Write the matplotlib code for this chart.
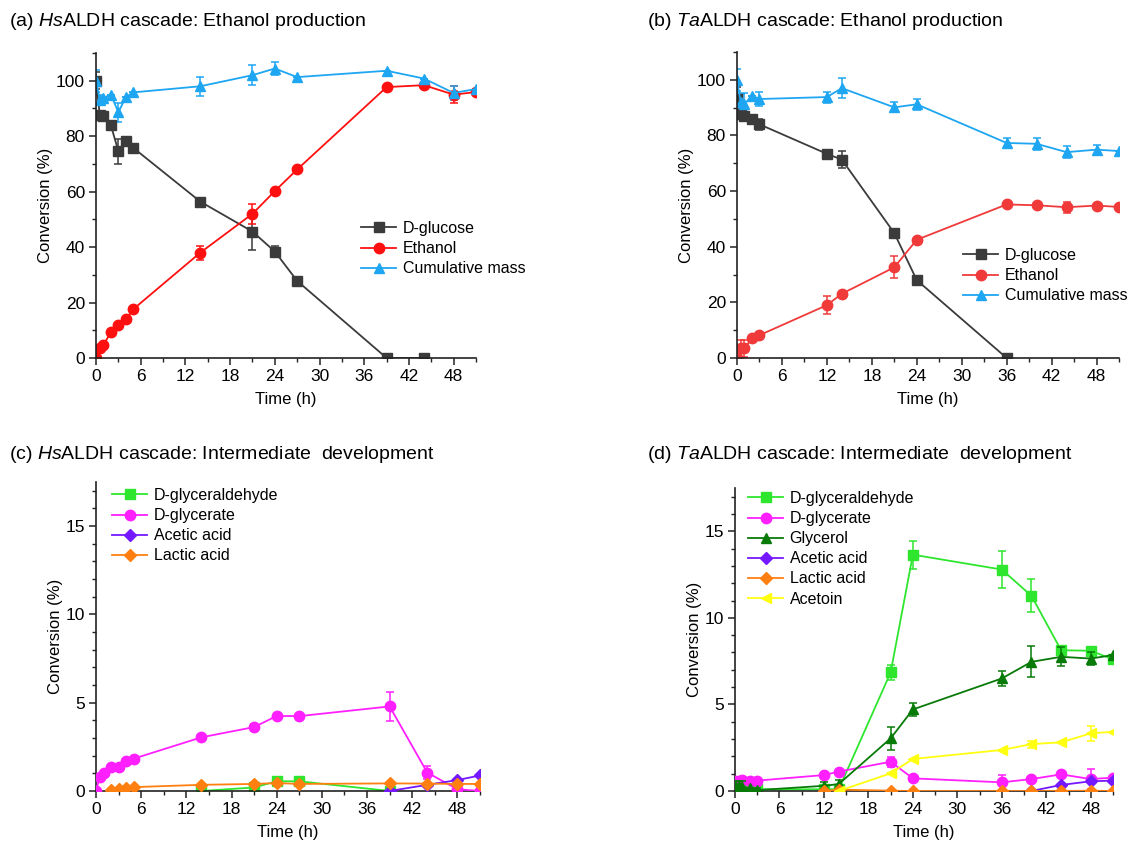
import matplotlib
matplotlib.use('Agg')
from matplotlib import pyplot as plt
from matplotlib.ticker import MultipleLocator

plt.rcParams['font.family'] = ['Liberation Sans', 'DejaVu Sans']
plt.rcParams['mathtext.fontset'] = 'custom'
plt.rcParams['mathtext.rm'] = 'Liberation Sans'
plt.rcParams['mathtext.it'] = 'Liberation Sans:italic'
plt.rcParams['font.size'] = 11.5

W, H = 1129, 841

# ---- (a) HsALDH, ethanol production
t_a = [0, 0.5, 1, 2, 3, 4, 5, 14, 21, 24, 27, 39, 44, 48, 51]
t_glc_a = [0, 0.5, 1, 2, 3, 4, 5, 14, 21, 24, 27, 39, 44]
glucose_a = [100, 87.8, 87.4, 83.9, 74.6, 78.2, 75.8, 56.4, 45.6, 38.4, 27.8, 0, 0]
glucose_a_err = [3, 1, 1, 1, 4.5, 1, 1, 1, 6.5, 2, 1, 0, 0]
ethanol_a = [0, 3.5, 4.8, 9.2, 12, 14, 17.6, 38, 52, 60.2, 68, 97.7, 98.4, 95, 95.9]
ethanol_a_err = [0, 0, 0, 0, 0, 0, 0, 2.5, 3.5, 0, 0, 0, 0, 3, 0]
mass_a = [100, 93.2, 93.8, 95, 88.6, 94.1, 95.8, 98, 102, 104.4, 101.3, 103.6, 100.8, 95.6, 97]
mass_a_err = [4, 1.5, 0, 0, 3.5, 0, 0, 3.5, 3.5, 2.5, 0, 0, 0, 2.5, 0]

# ---- (b) TaALDH, ethanol production
t_b = [0, 0.5, 1, 2, 3, 12, 14, 21, 24, 36, 40, 44, 48, 51]
t_glc_b = [0, 0.5, 1, 2, 3, 12, 14, 21, 24, 36]
glucose_b = [93, 87.6, 87, 85.8, 84, 73.4, 71.3, 44.9, 28, 0]
glucose_b_err = [4.5, 1.5, 1.5, 0, 2, 0, 3, 0, 0, 0]
ethanol_b = [0, 3.45, 3.5, 7.1, 8.2, 19, 23.1, 32.6, 42.5, 55.2, 54.9, 54.2, 54.8, 54.3]
ethanol_b_err = [0, 3, 3, 0, 0, 3.3, 0, 4, 0, 0, 0, 2, 0, 0]
mass_b = [100, 91.9, 91.3, 94.3, 93.1, 93.8, 97, 90.1, 91.2, 77.3, 77, 74, 74.9, 74.4]
mass_b_err = [4, 3, 4, 0, 2.5, 2, 3.5, 1.8, 2, 1.8, 2.2, 2.2, 1.8, 0]

# ---- (c) HsALDH, intermediates
t_c = [0, 0.5, 1, 2, 3, 4, 5, 14, 21, 24, 27, 39, 44, 48, 51]
glycerate_c = [0, 0.8, 1.0, 1.34, 1.36, 1.68, 1.83, 3.04, 3.62, 4.25, 4.24, 4.79, 1.04, 0.1, 0]
glycerate_c_err = [0, 0, 0, 0, 0, 0, 0, 0, 0.2, 0.1, 0, 0.8, 0.35, 0, 0]
t_gla_c = [14, 21, 24, 27, 39]
glyceraldehyde_c = [0, 0.2, 0.55, 0.55, 0]
t_ace_c = [39, 44, 48, 51]
acetic_c = [0, 0.35, 0.62, 0.88]
t_lac_c = [2, 3, 4, 5, 14, 21, 24, 27, 39, 44, 48, 51]
lactic_c = [0.08, 0.12, 0.18, 0.22, 0.35, 0.4, 0.45, 0.4, 0.43, 0.42, 0.4, 0.4]

# ---- (d) TaALDH, intermediates
t_d = [0, 0.5, 1, 2, 3, 12, 14, 21, 24, 36, 40, 44, 48, 51]
glyceraldehyde_d = [0.3, 0.35, 0.3, 0.2, 0.1, 0.1, 0.1, 6.85, 13.65, 12.79, 11.27, 8.13, 8.1, 7.6]
glyceraldehyde_d_err = [0, 0, 0, 0, 0, 0, 0, 0.45, 0.8, 1.05, 0.95, 0.25, 0.2, 0]
glycerate_d = [0.55, 0.6, 0.65, 0.6, 0.6, 0.92, 1.12, 1.69, 0.73, 0.5, 0.69, 0.96, 0.69, 0.77]
glycerate_d_err = [0.2, 0, 0, 0, 0, 0, 0, 0.3, 0, 0.45, 0, 0, 0.6, 0]
glycerol_d = [0.35, 0.3, 0.25, 0.15, 0.05, 0.3, 0.4, 3.04, 4.71, 6.5, 7.46, 7.75, 7.65, 7.85]
glycerol_d_err = [0.25, 0.25, 0.3, 0, 0.1, 0.2, 0.25, 0.65, 0.35, 0.45, 0.9, 0.55, 0.35, 0]
t_ace_d = [40, 44, 48, 51]
acetic_d = [0, 0.35, 0.56, 0.6]
t_lac_d = [12, 14, 21, 24, 36, 40, 44, 48, 51]
lactic_d = [0, 0.08, 0.02, 0, 0, 0, 0, 0.02, 0]
t_acn_d = [14, 21, 24, 36, 40, 44, 48, 51]
acetoin_d = [0, 1.02, 1.85, 2.37, 2.71, 2.81, 3.33, 3.42]
acetoin_d_err = [0, 0, 0, 0, 0.2, 0, 0.45, 0]

GRAY = '#3b3b3b'
RED = '#ff1010'
RED_B = '#f03a3a'
BLUE = '#1ea6f2'
LGREEN = '#2ee62e'
MAGENTA = '#ff1fff'
DGREEN = '#087a08'
PURPLE = '#7418ff'
ORANGE = '#ff8010'
YELLOW = '#ffff10'


def series(ax, t, v, err, color, marker, label, ms=7.5, z=2):
    ax.errorbar(t, v, yerr=err, color=color, marker=marker, ms=ms, lw=1.3,
                elinewidth=1.1, capsize=3, capthick=1.1, label=label,
                mec=color, mfc=color, zorder=z)


def style(ax, ymax, ymaj, ymin):
    ax.set_xlim(0, 51)
    ax.set_ylim(0, ymax)
    ax.xaxis.set_major_locator(MultipleLocator(6))
    ax.xaxis.set_minor_locator(MultipleLocator(3))
    ax.yaxis.set_major_locator(MultipleLocator(ymaj))
    ax.yaxis.set_minor_locator(MultipleLocator(ymin))
    for s in ['top', 'right']:
        ax.spines[s].set_visible(False)
    for s in ['left', 'bottom']:
        ax.spines[s].set_linewidth(1.2)
        ax.spines[s].set_color('#222222')
    ax.tick_params(which='major', direction='out', length=5, width=1.1,
                   color='#222222', labelsize=12.5, pad=3)
    ax.tick_params(which='minor', direction='out', length=3, width=1.0,
                   color='#222222')
    ax.set_xlabel('Time (h)', fontsize=12, labelpad=6)
    ax.set_ylabel('Conversion (%)', fontsize=12, labelpad=2)


def leg(ax, x, y, fig):
    handles, labels = ax.get_legend_handles_labels()
    handles = [h[0] for h in handles]
    ax.legend(handles, labels, loc='upper left',
              bbox_to_anchor=(x / W, 1 - y / H),
              bbox_transform=fig.transFigure, frameon=False, borderpad=0,
              borderaxespad=0, handlelength=2.2, handletextpad=0.4,
              labelspacing=0.32, fontsize=11.5)


fig = plt.figure(figsize=(W / 100, H / 100), dpi=100)
ax_a = fig.add_axes([96 / W, 1 - 358 / H, 380 / W, 305 / H])
ax_b = fig.add_axes([737 / W, 1 - 358 / H, 382 / W, 306 / H])
ax_c = fig.add_axes([96 / W, 1 - 791 / H, 384 / W, 309 / H])
ax_d = fig.add_axes([735 / W, 1 - 791 / H, 378 / W, 303 / H])

series(ax_a, t_glc_a, glucose_a, glucose_a_err, GRAY, 's', 'D-glucose', ms=7)
series(ax_a, t_a, ethanol_a, ethanol_a_err, RED, 'o', 'Ethanol')
series(ax_a, t_a, mass_a, mass_a_err, BLUE, '^', 'Cumulative mass')
style(ax_a, 110, 20, 10)
leg(ax_a, 361, 221, fig)

series(ax_b, t_glc_b, glucose_b, glucose_b_err, GRAY, 's', 'D-glucose', ms=7)
series(ax_b, t_b, ethanol_b, ethanol_b_err, RED_B, 'o', 'Ethanol')
series(ax_b, t_b, mass_b, mass_b_err, BLUE, '^', 'Cumulative mass')
style(ax_b, 110, 20, 10)
leg(ax_b, 963, 248, fig)

series(ax_c, t_gla_c, glyceraldehyde_c, 0, LGREEN, 's', 'D-glyceraldehyde', ms=7)
series(ax_c, t_c, glycerate_c, glycerate_c_err, MAGENTA, 'o', 'D-glycerate', z=3)
series(ax_c, t_ace_c, acetic_c, 0, PURPLE, 'D', 'Acetic acid', ms=6.5, z=4)
series(ax_c, t_lac_c, lactic_c, 0, ORANGE, 'D', 'Lactic acid', ms=6.5, z=5)
style(ax_c, 17.5, 5, 1)
leg(ax_c, 112, 488, fig)

series(ax_d, t_d, glyceraldehyde_d, glyceraldehyde_d_err, LGREEN, 's', 'D-glyceraldehyde', ms=7)
series(ax_d, t_d, glycerate_d, glycerate_d_err, MAGENTA, 'o', 'D-glycerate', z=3)
series(ax_d, t_d, glycerol_d, glycerol_d_err, DGREEN, '^', 'Glycerol', z=4)
series(ax_d, t_ace_d, acetic_d, 0, PURPLE, 'D', 'Acetic acid', ms=6.5, z=5)
series(ax_d, t_lac_d, lactic_d, 0, ORANGE, 'D', 'Lactic acid', ms=6.5, z=6)
series(ax_d, t_acn_d, acetoin_d, acetoin_d_err, YELLOW, '<', 'Acetoin', z=7)
style(ax_d, 17.5, 5, 1)
leg(ax_d, 748, 491, fig)

titles = [
    (9, 21, r'(a) $\mathit{Hs}$ALDH cascade: Ethanol production'),
    (647, 21, r'(b) $\mathit{Ta}$ALDH cascade: Ethanol production'),
    (9, 455, r'(c) $\mathit{Hs}$ALDH cascade: Intermediate  development'),
    (647, 455, r'(d) $\mathit{Ta}$ALDH cascade: Intermediate  development'),
]
for x, y, s in titles:
    fig.text(x / W, 1 - y / H, s, fontsize=14, ha='left', va='center')

fig.savefig('out.png', dpi=100)
